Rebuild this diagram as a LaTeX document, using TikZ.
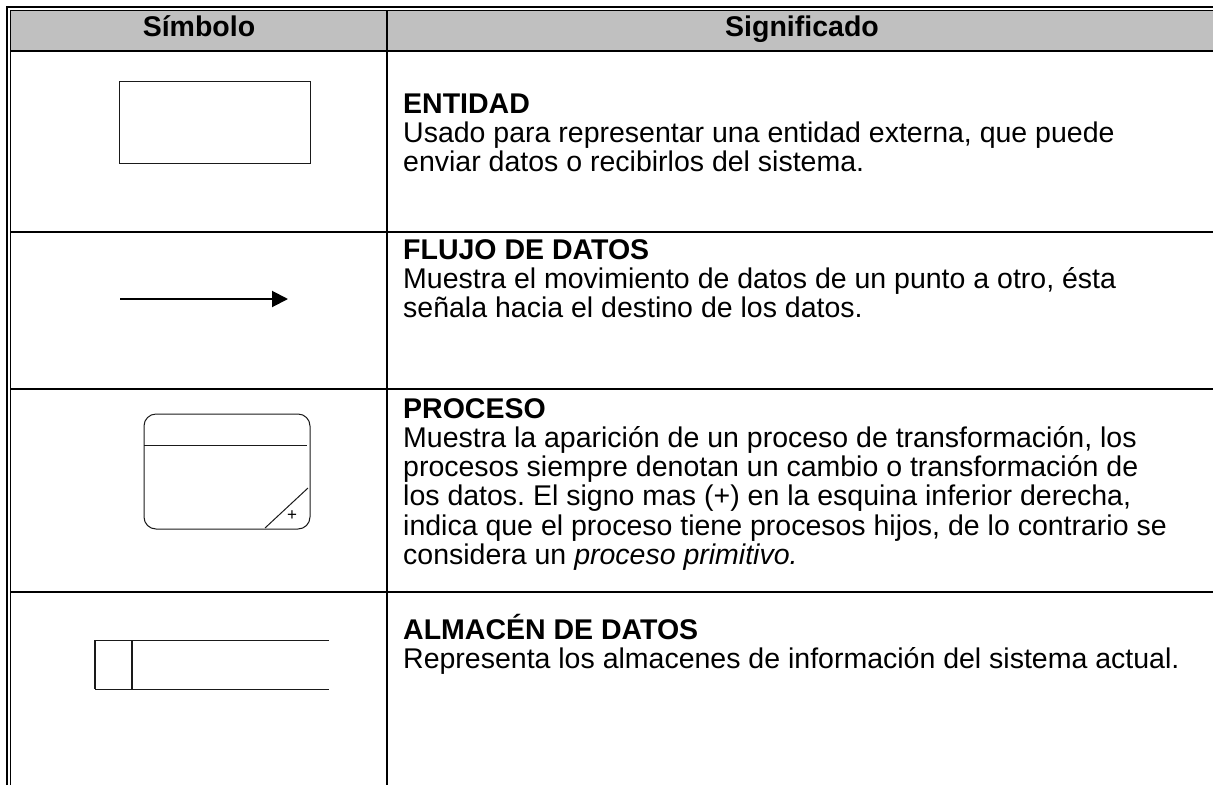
\documentclass[tikz,border=0pt]{standalone}
\usepackage{fontspec}
\setmainfont{Liberation Sans}
\usetikzlibrary{arrows.meta}
\definecolor{hdrgray}{HTML}{C0C0C0}
\definecolor{symline}{HTML}{1A1A1A}
\frenchspacing
\begin{document}
\begin{tikzpicture}[x=1pt,y=-1pt,
  txt/.style={anchor=base west,inner sep=0pt,font=\fontsize{28.5}{29.3}\selectfont},
  ttl/.style={anchor=base west,inner sep=0pt,font=\fontsize{28.5}{29.3}\selectfont\bfseries},
  hdr/.style={anchor=base,inner sep=0pt,font=\fontsize{28.5}{29.3}\selectfont\bfseries},
  sym/.style={draw=symline,line width=1pt},
  rowrule/.style={line width=2pt},
  ]
\useasboundingbox (0,0) rectangle (1213,785);
% header background
\fill[hdrgray] (10.5,10.5) rectangle (1213,50);
% outer double border (top + left)
\draw[line width=2.4pt] (7.2,785) -- (7.2,7.2) -- (1213,7.2);
\draw[line width=1pt] (10.5,785) -- (10.5,10.5) -- (1213,10.5);
% header bottom rule
\draw[line width=2.6pt] (10.5,51) -- (1213,51);
% row rules
\draw[rowrule] (10.5,232) -- (1213,232);
\draw[rowrule] (10.5,389) -- (1213,389);
\draw[rowrule] (10.5,592) -- (1213,592);
% column rule
\draw[rowrule] (387,10.5) -- (387,785);
% header texts
\node[hdr] (h1) at (199,36.7) {Símbolo};
\node[hdr] (h2) at (802,36.7) {Significado};
% ENTIDAD
\node[sym,draw,minimum width=191,minimum height=82,inner sep=0pt] (ent) at (214.5,122) {};
\node[ttl] (t1) at (403,113.3) {ENTIDAD};
\node[txt] (t1a) at (403,142.6) {Usado para representar una entidad externa, que puede};
\node[txt] (t1b) at (403,171.9) {enviar datos o recibirlos del sistema.};
% FLUJO DE DATOS
\coordinate (a1) at (120,299);
\coordinate (a2) at (288,299);
\draw[line width=2pt,-{Triangle[length=16pt,width=16pt]}] (a1) -- (a2);
\node[ttl] (t2) at (403,259) {FLUJO DE DATOS};
\node[txt] (t2a) at (403,288.3) {Muestra el movimiento de datos de un punto a otro, ésta};
\node[txt] (t2b) at (403,317.6) {señala hacia el destino de los datos.};
% PROCESO
\node[sym,draw,rounded corners=12pt,minimum width=166,minimum height=115,inner sep=0pt] (proc) at (227,471.5) {};
\draw[sym] (144,445) -- (307,445);
\draw[sym] (265,528) -- (308,488);
\node[inner sep=0pt,font=\fontsize{17}{17}\selectfont] (plus) at (292,516) {+};
\node[ttl] (t3) at (403,418) {PROCESO};
\node[txt] (t3a) at (403,447.3) {Muestra la aparición de un proceso de transformación, los};
\node[txt] (t3b) at (403,476.6) {procesos siempre denotan un cambio o transformación de};
\node[txt] (t3c) at (403,505.9) {los datos. El signo mas (+) en la esquina inferior derecha,};
\node[txt] (t3d) at (403,535.2) {indica que el proceso tiene procesos hijos, de lo contrario se};
\node[txt] (t3e) at (403,564.5) {considera un \textit{proceso primitivo.}};
% ALMACEN
\draw[sym] (329,640) -- (95,640) -- (95,689) -- (329,689);
\draw[sym,line width=1.5pt] (95,640) -- (95,689);
\draw[sym,line width=1.5pt] (132,640) -- (132,689);
\node[ttl] (t4) at (403,639.3) {ALMACÉN DE DATOS};
\node[txt] (t4a) at (403,668.6) {Representa los almacenes de información del sistema actual.};
\end{tikzpicture}
\end{document}
